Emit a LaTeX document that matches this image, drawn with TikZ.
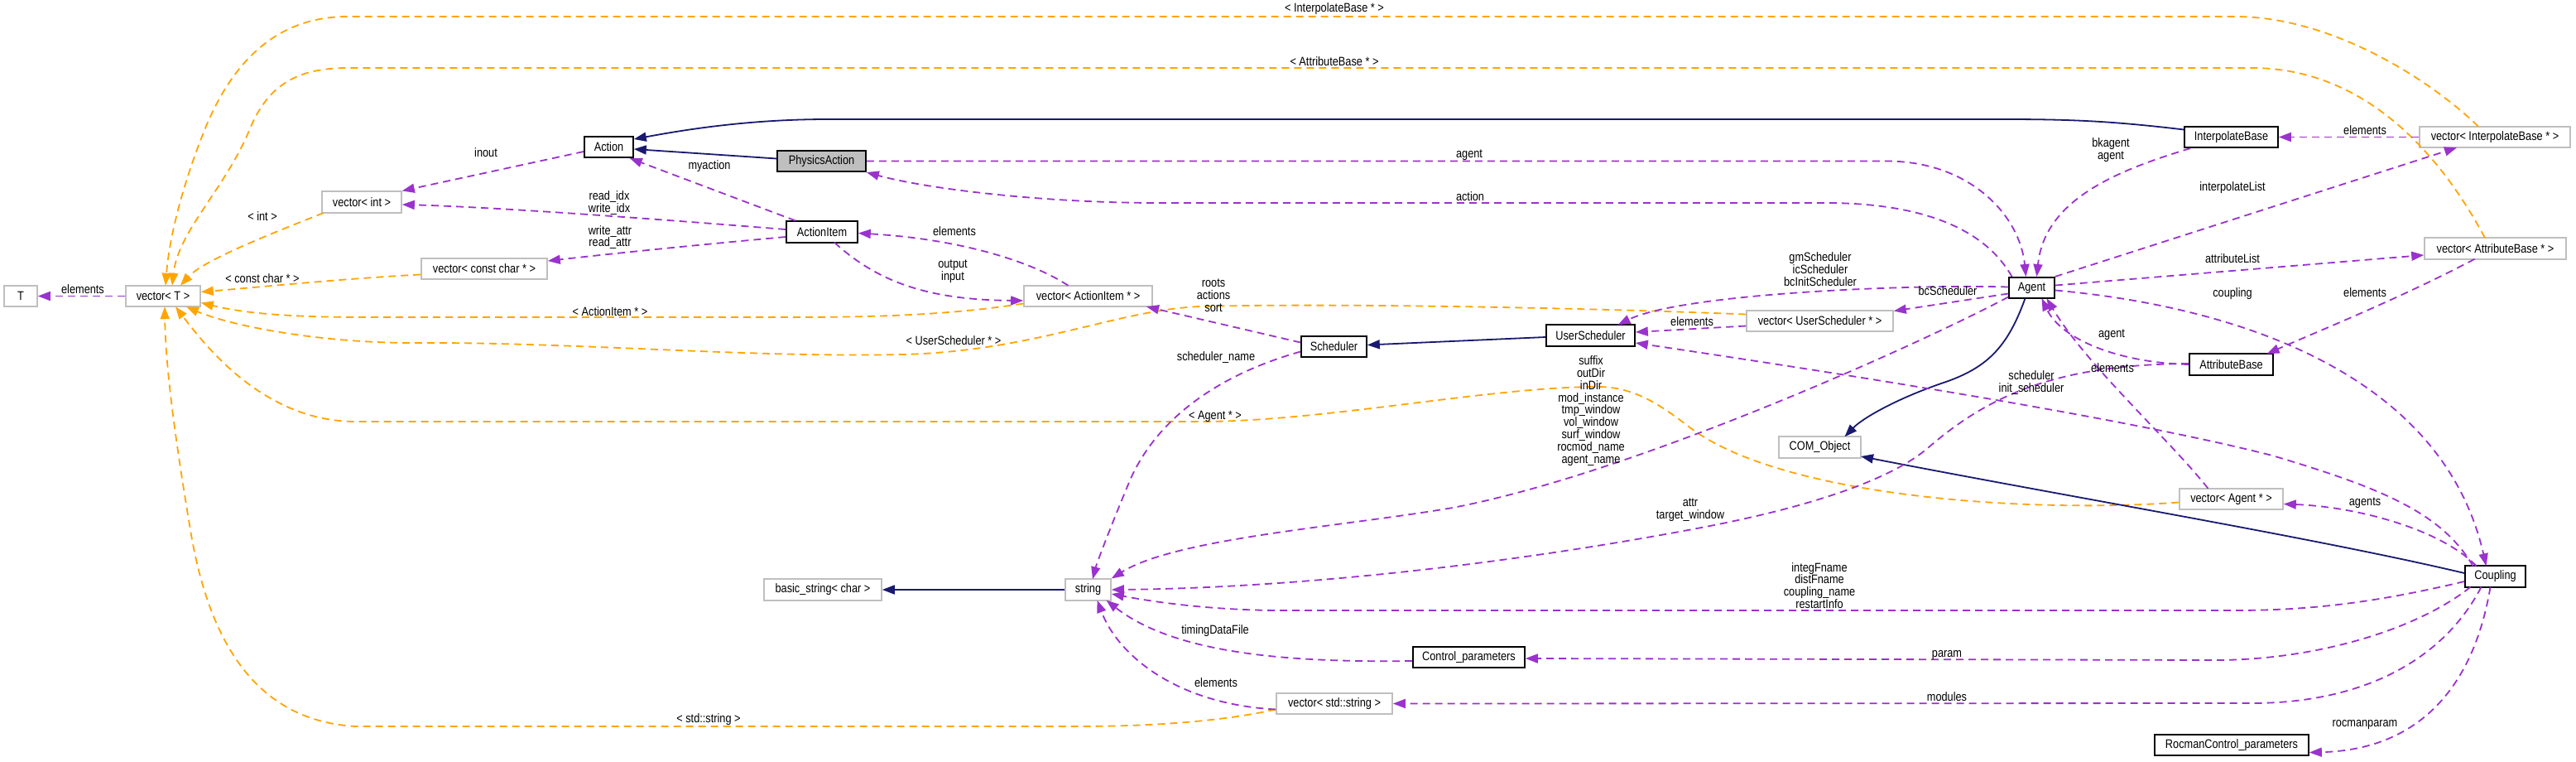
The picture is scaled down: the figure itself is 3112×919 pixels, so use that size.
\documentclass[tikz,border=0pt]{standalone}
\usepackage{fontspec}
\setmainfont{Liberation Sans}[FakeStretch=0.85]
\usetikzlibrary{arrows.meta}
\definecolor{purp}{HTML}{9A32CD}
\definecolor{orng}{HTML}{FFA500}
\definecolor{navyb}{HTML}{191970}
\definecolor{greyb}{HTML}{BFBFBF}
\newcommand{\dfont}{\fontsize{15}{14.8}\selectfont}
\begin{document}
\begin{tikzpicture}[x=1pt,y=-1pt,
  box/.style={draw=black, line width=1.6pt, fill=white, minimum height=25.5pt, inner sep=0pt, font=\dfont},
  gbox/.style={box, draw=greyb},
  usedge/.style={draw=purp, line width=1.8pt, dash pattern=on 9pt off 6pt, -{Triangle[length=15pt,width=11pt]}},
  tpledge/.style={draw=orng, line width=1.8pt, dash pattern=on 9pt off 6pt, -{Triangle[length=15pt,width=11pt]}},
  inhedge/.style={draw=navyb, line width=1.8pt, -{Triangle[length=15pt,width=11pt]}},
  lbl/.style={font=\dfont, align=center, inner sep=0pt}]
\useasboundingbox[fill=white] (0,0) rectangle (3112,919);

% ---------- nodes ----------
\node[gbox, minimum width=40pt]  (T) at (25,357.5) {T};
\node[gbox, minimum width=90pt]  (vecT) at (197,357.5) {vector< T >};
\node[gbox, minimum width=96pt]  (vecInt) at (437,244) {vector< int >};
\node[gbox, minimum width=152pt] (vecCC) at (585,324.5) {vector< const char * >};
\node[box, minimum width=59pt]   (Action) at (735.5,177.5) {Action};
\node[box, minimum width=107pt, fill=greyb] (PhysicsAction) at (992.5,194.5) {PhysicsAction};
\node[box, minimum width=86pt]   (ActionItem) at (993,280) {ActionItem};
\node[gbox, minimum width=155pt] (vecAI) at (1314.5,357.5) {vector< ActionItem * >};
\node[box, minimum width=79pt]   (Scheduler) at (1611.5,418.5) {Scheduler};
\node[box, minimum width=107pt]  (UserScheduler) at (1921.5,405) {UserScheduler};
\node[gbox, minimum width=177pt] (vecUS) at (2198.5,387.5) {vector< UserScheduler * >};
\node[box, minimum width=55pt]   (Agent) at (2454.5,347.5) {Agent};
\node[box, minimum width=113pt]  (InterpolateBase) at (2695.5,165.5) {InterpolateBase};
\node[gbox, minimum width=182pt] (vecIB) at (3014,165.5) {vector< InterpolateBase * >};
\node[gbox, minimum width=171pt] (vecAB) at (3014.5,300) {vector< AttributeBase * >};
\node[box, minimum width=101pt]  (AttributeBase) at (2695.5,440) {AttributeBase};
\node[gbox, minimum width=99pt]  (COM) at (2198.5,540) {COM\_Object};
\node[gbox, minimum width=125pt] (vecAgent) at (2695.5,602.5) {vector< Agent * >};
\node[box, minimum width=73pt]   (Coupling) at (3014.5,696) {Coupling};
\node[box, minimum width=186pt]  (Rocman) at (2696,899.5) {RocmanControl\_parameters};
\node[gbox, minimum width=55pt]  (string) at (1314.5,712) {string};
\node[gbox, minimum width=142pt] (basicstr) at (994,712) {basic\_string< char >};
\node[box, minimum width=135pt]  (Control) at (1774.5,793.5) {Control\_parameters};
\node[gbox, minimum width=140pt] (vecStr) at (1612,849.5) {vector< std::string >};

% ---------- template edges (orange) ----------
\draw[tpledge] ([shift={(-46,13)}]vecInt.center) .. controls (320,285) and (245,315) .. ([shift={(21,-12.75)}]vecT.center);
\draw[tpledge] ([shift={(0,7)}]vecCC.west) .. controls (420,336) and (320,346) .. ([shift={(0,-5)}]vecT.east);
\draw[tpledge] ([shift={(0,9)}]vecAI.west) .. controls (1150,380) and (1060,383) .. (960,383) -- (440,383) .. controls (340,383) and (290,377) .. ([shift={(0,8)}]vecT.east);
\draw[tpledge] ([shift={(0,-8)}]vecUS.west) .. controls (1900,371) and (1600,366) .. (1450,370) .. controls (1350,374) and (1250,424) .. (1090,428) .. controls (900,432) and (700,413) .. (500,414) .. controls (380,414) and (275,392) .. ([shift={(28,12.75)}]vecT.center);
\draw[tpledge] ([shift={(0,4)}]vecAgent.west) .. controls (2450,620) and (2150,600) .. (2040,515) .. controls (2000,484) and (1970,467) .. (1930,467) .. controls (1800,467) and (1600,509) .. (1450,509) -- (430,509) .. controls (320,509) and (250,420) .. ([shift={(15,12.75)}]vecT.center);
\draw[tpledge] ([shift={(0,7)}]vecStr.west) .. controls (1480,870) and (1400,877) .. (1300,877) -- (430,877) .. controls (300,870) and (250,760) .. (230,640) .. controls (215,550) and (200,450) .. ([shift={(2,12.75)}]vecT.center);
\draw[tpledge] ([shift={(-20,-12.75)}]vecIB.center) .. controls (2940,100) and (2820,20) .. (2700,20) -- (420,20) .. controls (330,20) and (280,80) .. (250,150) .. controls (225,210) and (205,280) .. ([shift={(3,-12.75)}]vecT.center);
\draw[tpledge] ([shift={(-12.5,-12.75)}]vecAB.center) .. controls (2950,190) and (2860,82) .. (2720,82) -- (420,82) .. controls (350,82) and (320,110) .. (300,160) .. controls (270,230) and (215,280) .. ([shift={(11,-12.75)}]vecT.center);

% ---------- inheritance edges (navy) ----------
\draw[inhedge] ([shift={(0,-3)}]PhysicsAction.west) -- ([shift={(0,2.5)}]Action.east);
\draw[inhedge] ([shift={(0,-9)}]InterpolateBase.west) .. controls (2550,146) and (2500,144) .. (2420,144) -- (1000,144) .. controls (900,144) and (820,158) .. ([shift={(0,-9.5)}]Action.east);
\draw[inhedge] ([shift={(0,2)}]UserScheduler.west) -- ([shift={(0,-2)}]Scheduler.east);
\draw[inhedge] ([shift={(-8,12.75)}]Agent.center) .. controls (2425,420) and (2400,445) .. (2345,463) .. controls (2290,482) and (2250,505) .. ([shift={(30,-12.75)}]COM.center);
\draw[inhedge] ([shift={(0,-4)}]Coupling.west) .. controls (2800,650) and (2500,600) .. ([shift={(49.5,11)}]COM.center);
\draw[inhedge] (string.west) -- (basicstr.east);

% ---------- usage edges (purple) ----------
\draw[usedge] (vecT.west) -- (T.east);
\draw[usedge] ([shift={(0,5.5)}]Action.west) -- (vecInt.north east);
\draw[usedge] ([shift={(0,-3)}]ActionItem.west) .. controls (800,265) and (600,250) .. ([shift={(0,3)}]vecInt.east);
\draw[usedge] ([shift={(0,6)}]ActionItem.west) .. controls (850,295) and (750,305) .. ([shift={(0,-9.5)}]vecCC.east);
\draw[usedge] ([shift={(-32,0)}]ActionItem.north) -- ([shift={(-5,0)}]Action.south east);
\draw[usedge] (PhysicsAction.east) -- (2280,194.5) .. controls (2380,195) and (2440,260) .. ([shift={(-7,0)}]Agent.north);
\draw[usedge] ([shift={(-24,0)}]Agent.north) .. controls (2400,280) and (2330,246) .. (2210,245) -- (1400,245) .. controls (1260,245) and (1120,228) .. (PhysicsAction.south east);
\draw[usedge] ([shift={(8,0)}]InterpolateBase.south west) .. controls (2560,205) and (2470,240) .. ([shift={(6,0)}]Agent.north);
\draw[usedge] (Agent.north east) -- ([shift={(-46,12.75)}]vecIB.center);
\draw[usedge] ([shift={(0,-3)}]Agent.east) -- ([shift={(0,8)}]vecAB.west);
\draw[usedge] (vecIB.west) -- (InterpolateBase.east);
\draw[usedge] ([shift={(-25,12.75)}]vecAB.center) .. controls (2900,360) and (2800,400) .. ([shift={(43,-12.75)}]AttributeBase.center);
\draw[usedge] (AttributeBase.west) .. controls (2560,438) and (2490,410) .. ([shift={(12,12.75)}]Agent.center);
\draw[usedge] ([shift={(-28,-12.75)}]vecAgent.center) .. controls (2620,530) and (2520,440) .. ([shift={(18,12.75)}]Agent.center);
\draw[usedge] ([shift={(0,7)}]Agent.west) -- ([shift={(0,-12)}]vecUS.east);
\draw[usedge] ([shift={(0,-1)}]Agent.west) .. controls (2300,343) and (2030,355) .. ([shift={(33,-12.75)}]UserScheduler.center);
\draw[usedge] ([shift={(0,6)}]vecUS.west) -- ([shift={(0,-4)}]UserScheduler.east);
\draw[usedge] ([shift={(-27,-12.75)}]Coupling.center) .. controls (2950,620) and (2880,590) .. (2745,550) .. controls (2550,500) and (2150,440) .. ([shift={(0,9)}]UserScheduler.east);
\draw[usedge] ([shift={(-23,-12.75)}]Coupling.center) .. controls (2950,640) and (2850,612) .. ([shift={(0,6)}]vecAgent.east);
\draw[usedge] ([shift={(0,3)}]Agent.east) .. controls (2700,370) and (2950,450) .. ([shift={(-11,-12.75)}]Coupling.center);
\draw[usedge] ([shift={(0,11)}]Agent.west) .. controls (2330,410) and (1980,570) .. (1755,613) .. controls (1620,636) and (1420,650) .. (string.north east);
\draw[usedge] ([shift={(0,-1)}]AttributeBase.west) .. controls (2480,440) and (2400,480) .. (2330,540) .. controls (2290,575) and (2200,610) .. (2050,638) .. controls (1800,685) and (1550,710) .. (string.east);
\draw[usedge] ([shift={(0,6)}]Coupling.west) .. controls (2880,725) and (2800,737) .. (2700,737) -- (1550,737) .. controls (1470,737) and (1400,728) .. ([shift={(0,5)}]string.east);
\draw[usedge] ([shift={(0,6)}]Scheduler.west) .. controls (1480,450) and (1400,500) .. (1365,580) .. controls (1340,640) and (1325,680) .. ([shift={(5.5,-12.75)}]string.center);
\draw[usedge] ([shift={(0,-5)}]Scheduler.west) -- ([shift={(70.5,12.75)}]vecAI.center);
\draw[usedge] ([shift={(-24,-12.75)}]vecAI.center) .. controls (1240,312) and (1150,288) .. ([shift={(0,1.5)}]ActionItem.east);
\draw[usedge] ([shift={(15,12.75)}]ActionItem.center) .. controls (1060,340) and (1120,362) .. ([shift={(0,5.5)}]vecAI.west);
\draw[usedge] ([shift={(0,4.5)}]Control.west) .. controls (1560,800) and (1420,790) .. ([shift={(22,12.75)}]string.center);
\draw[usedge] ([shift={(0,7)}]vecStr.west) .. controls (1420,850) and (1350,790) .. ([shift={(11,12.75)}]string.center);
\draw[usedge] ([shift={(-30,12.75)}]Coupling.center) .. controls (2920,760) and (2800,796) .. (2680,797) -- ([shift={(0,1.5)}]Control.east);
\draw[usedge] ([shift={(-17,12.75)}]Coupling.center) .. controls (2950,800) and (2850,849) .. (2720,849) -- (vecStr.east);
\draw[usedge] ([shift={(-6,12.75)}]Coupling.center) .. controls (2990,820) and (2930,905) .. ([shift={(0,9)}]Rocman.east);

% ---------- labels ----------
\node[lbl] (l1) at (100,349) {elements};
\node[lbl] (l2) at (317,261) {< int >};
\node[lbl] (l3) at (317,336) {< const char * >};
\node[lbl] (l4) at (737,376) {< ActionItem * >};
\node[lbl] (l5) at (1152,411) {< UserScheduler * >};
\node[lbl] (l6) at (1468,503) {< Agent * >};
\node[lbl] (l7) at (856,869) {< std::string >};
\node[lbl] (l8) at (1612,11) {< InterpolateBase * >};
\node[lbl] (l9) at (1612,74) {< AttributeBase * >};
\node[lbl] (l10) at (587,184) {inout};
\node[lbl] (l11) at (736,245) {read\_idx\\write\_idx};
\node[lbl] (l12) at (737,286.5) {write\_attr\\read\_attr};
\node[lbl] (l13) at (857,201) {myaction};
\node[lbl] (l16) at (1775,187) {agent};
\node[lbl] (l17) at (1776,237) {action};
\node[lbl] (l18) at (2550,181.5) {bkagent\\agent};
\node[lbl] (l19) at (2697,227) {interpolateList};
\node[lbl] (l20) at (2697,312) {attributeList};
\node[lbl] (l21) at (2857,157) {elements};
\node[lbl] (l22) at (2857,353) {elements};
\node[lbl] (l23) at (2551,404) {agent};
\node[lbl] (l24) at (2552,444) {elements};
\node[lbl] (l25) at (2353,351) {bcScheduler};
\node[lbl] (l26) at (2199,325) {gmScheduler\\icScheduler\\bcInitScheduler};
\node[lbl] (l27) at (2044,388) {elements};
\node[lbl] (l28) at (2454,462) {scheduler\\init\_scheduler};
\node[lbl] (l31) at (2857,607) {agents};
\node[lbl] (l32) at (2697,355) {coupling};
\node[lbl] (l33) at (1922,496) {suffix\\outDir\\inDir\\mod\_instance\\tmp\_window\\vol\_window\\surf\_window\\rocmod\_name\\agent\_name};
\node[lbl] (l34) at (2042,615.5) {attr\\target\_window};
\node[lbl] (l35) at (2198,707) {integFname\\distFname\\coupling\_name\\restartInfo};
\node[lbl] (l36) at (1469,432) {scheduler\_name};
\node[lbl] (l37) at (1466,357) {roots\\actions\\sort};
\node[lbl] (l38) at (1153,279) {elements};
\node[lbl] (l39) at (1151,328) {output\\input};
\node[lbl] (l40) at (1468,762) {timingDataFile};
\node[lbl] (l41) at (1469,824) {elements};
\node[lbl] (l42) at (2352,791) {param};
\node[lbl] (l43) at (2352,841) {modules};
\node[lbl] (l44) at (2857,875) {rocmanparam};
\end{tikzpicture}
\end{document}
